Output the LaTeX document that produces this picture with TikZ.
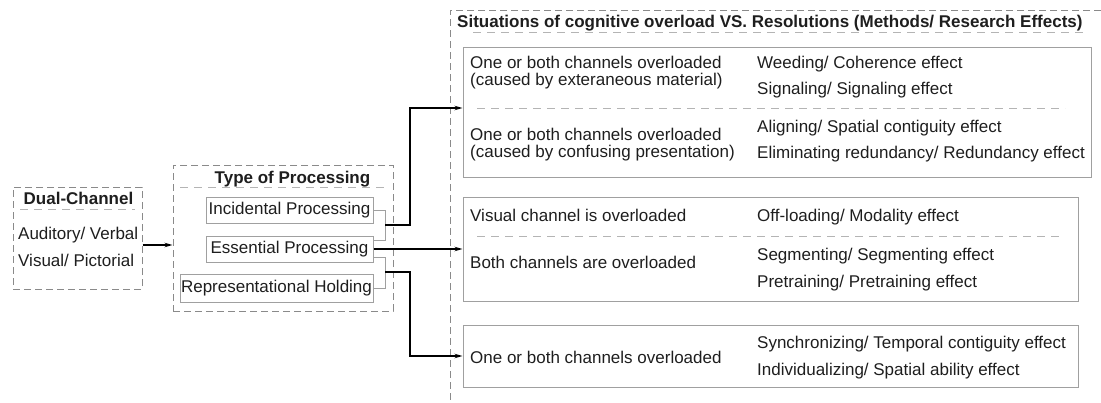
\documentclass[tikz,border=0pt]{standalone}
\usepackage{fontspec}
\setmainfont{Liberation Sans}
\usetikzlibrary{arrows.meta}
\definecolor{txt}{HTML}{1E1E1E}
\definecolor{boxc}{HTML}{A0A0A0}
\definecolor{dashc}{HTML}{8A8A8A}
\definecolor{sepc}{HTML}{B4B4B4}
\tikzset{
  lbl/.style={anchor=base west, inner sep=0pt, text=txt, font=\fontsize{17}{20}\selectfont},
  ttl/.style={anchor=base, inner sep=0pt, text=txt, font=\fontsize{17}{20}\selectfont\bfseries},
  dbox/.style={draw=dashc, dash pattern=on 7pt off 4pt, line width=1pt, inner sep=0pt},
  gbox/.style={draw=boxc, line width=1pt, inner sep=0pt, text=txt, font=\fontsize{17}{20}\selectfont},
  sepline/.style={draw=sepc, dash pattern=on 8pt off 6pt, line width=0.9pt},
  conn/.style={draw=black, line width=1.2pt},
  arr/.style={conn, -{Stealth[length=8pt,width=4.5pt]}},
  bracket/.style={draw=boxc, line width=0.9pt},
}
\begin{document}
\begin{tikzpicture}[x=1pt,y=-1pt]
\useasboundingbox (0,0) rectangle (1101,402);

% Dual-Channel
\node[dbox, minimum width=129pt, minimum height=102pt] (dual) at (77.5,238) {};
\node[ttl] (dualt) at (78.5,204) {Dual-Channel};
\draw[sepline] (20,209) -- (135,209);
\node[lbl] (aud) at (18,239) {Auditory/ Verbal};
\node[lbl] (vis) at (18,266) {Visual/ Pictorial};

% Type of Processing
\node[dbox, minimum width=220pt, minimum height=146pt] (type) at (283,238) {};
\node[ttl] (typet) at (292.5,183) {Type of Processing};
\draw[sepline] (180,187) -- (388,187);
\node[gbox, minimum width=167pt, minimum height=26pt] (inc) at (289.5,210) {Incidental Processing};
\node[gbox, minimum width=167pt, minimum height=26pt] (ess) at (289.5,249) {Essential Processing};
\node[gbox, minimum width=193pt, minimum height=28pt] (rep) at (276.5,288) {Representational Holding};

\draw[arr] ([yshift=-7pt]dual.east) -- ([yshift=-7pt]type.west);

% brackets
\draw[bracket] (inc.east) -- ++(12,0) |- ([yshift=9pt]ess.east);
\draw[bracket] ([yshift=-8pt]ess.east) -- ++(12,0) |- (rep.east);
\coordinate (j1) at (385,225);
\coordinate (j2) at (385,272);

% Right frame
\draw[dbox] (1101,10) -- (450,10) -- (450,400);
\node[lbl, font=\fontsize{17}{20}\selectfont\bfseries] (sit) at (457,27) {Situations of cognitive overload VS. Resolutions (Methods/ Research Effects)};
\draw[sepline] (473,32) -- (1083,32);

% Box 1
\node[gbox, minimum width=628pt, minimum height=130pt] (b1) at (777,112) {};
\node[lbl] at (470,68) {One or both channels overloaded};
\node[lbl] at (470,85) {(caused by exteraneous material)};
\draw[sepline] (477,108) -- (1065,108);
\node[lbl] at (470,140) {One or both channels overloaded};
\node[lbl] at (470,157) {(caused by confusing presentation)};
\node[lbl] at (757,68) {Weeding/ Coherence effect};
\node[lbl] at (757,94) {Signaling/ Signaling effect};
\node[lbl] at (757,132) {Aligning/ Spatial contiguity effect};
\node[lbl] at (757,158) {Eliminating redundancy/ Redundancy effect};

% Box 2
\node[gbox, minimum width=615pt, minimum height=104pt] (b2) at (770.5,249) {};
\node[lbl] at (470,221) {Visual channel is overloaded};
\draw[sepline] (477,236) -- (1063,236);
\node[lbl] at (470,268) {Both channels are overloaded};
\node[lbl] at (757,221) {Off-loading/ Modality effect};
\node[lbl] at (757,260) {Segmenting/ Segmenting effect};
\node[lbl] at (757,287) {Pretraining/ Pretraining effect};

% Box 3
\node[gbox, minimum width=615pt, minimum height=62pt] (b3) at (770.5,356) {};
\node[lbl] at (470,363) {One or both channels overloaded};
\node[lbl] at (757,348) {Synchronizing/ Temporal contiguity effect};
\node[lbl] at (757,375) {Individualizing/ Spatial ability effect};

% Connectors
\draw[arr] (j1) -- (410,225) |- ([yshift=4pt]b1.west);
\draw[arr] (ess.east) -- (b2.west);
\draw[arr] (j2) -- (410,272) |- (b3.west);
\end{tikzpicture}
\end{document}
